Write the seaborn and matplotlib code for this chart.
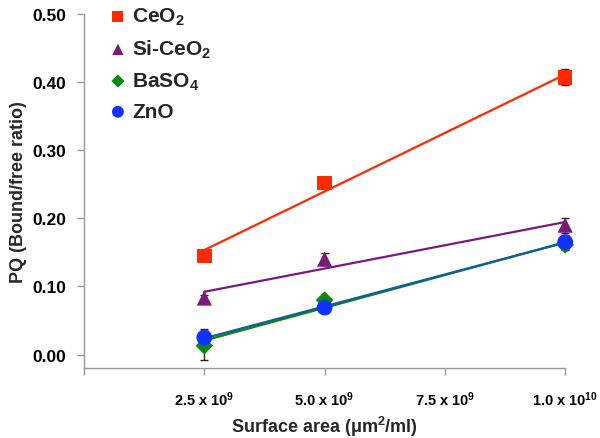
import matplotlib
matplotlib.use("Agg")
import matplotlib.pyplot as plt
import numpy as np
import pandas as pd
import seaborn as sns

# surface area of particles per ml (x values shared by every series)
surface_area = [2.5e9, 5.0e9, 1.0e10]

ceo2_pq = [0.145, 0.252, 0.407]
ceo2_err = [0.004, 0.007, 0.012]

si_ceo2_pq = [0.083, 0.140, 0.190]
si_ceo2_err = [0.004, 0.009, 0.011]

baso4_pq = [0.013, 0.080, 0.161]
baso4_err = [0.021, 0.004, 0.008]

zno_pq = [0.025, 0.069, 0.165]
zno_err = [0.012, 0.008, 0.010]

series_names = ["CeO$_2$", "Si-CeO$_2$", "BaSO$_4$", "ZnO"]
x_tick_values = [2.5e9, 5.0e9, 7.5e9, 1.0e10]
x_tick_labels = ["2.5 x 10$^9$", "5.0 x 10$^9$", "7.5 x 10$^9$", "1.0 x 10$^{10}$"]
y_tick_values = [0.0, 0.1, 0.2, 0.3, 0.4, 0.5]

sns.set_theme(style="ticks")
plt.rcParams["font.family"] = ["Liberation Sans", "DejaVu Sans"]
plt.rcParams["font.weight"] = "bold"
plt.rcParams["mathtext.fontset"] = "custom"
plt.rcParams["mathtext.rm"] = "Liberation Sans:bold"
plt.rcParams["mathtext.it"] = "Liberation Sans:bold"
plt.rcParams["mathtext.default"] = "rm"

styles = [
    # marker, marker colour, line colour, marker size
    ("s", "#ff2a00", "#ff2a00", 110),
    ("^", "#7a1a7a", "#7a1a7a", 120),
    ("D", "#0a8a0a", "#0a8a0a", 80),
    ("o", "#1133ff", "#125c9c", 130),
]
values = [ceo2_pq, si_ceo2_pq, baso4_pq, zno_pq]
errors = [ceo2_err, si_ceo2_err, baso4_err, zno_err]

fig = plt.figure(figsize=(6.0, 4.39), dpi=100)
ax = fig.add_axes([0.14, 0.159, 0.802, 0.807])

for name, pq, err, (marker, mcolor, lcolor, msize) in zip(series_names, values, errors, styles):
    df = pd.DataFrame({"area": surface_area, "pq": pq})
    ax.errorbar(surface_area, pq, yerr=err, fmt="none", ecolor="#222222",
                elinewidth=1.0, capsize=3, capthick=1.0, zorder=2, clip_on=False)
    sns.regplot(data=df, x="area", y="pq", scatter=False, ci=None, ax=ax,
                color=lcolor, line_kws={"linewidth": 1.6, "zorder": 3})
    sns.scatterplot(data=df, x="area", y="pq", marker=marker, color=mcolor,
                    s=msize, edgecolor="none", ax=ax, label=name, zorder=4,
                    clip_on=False)

ax.set_xlim(0, 1.0e10)
ax.set_ylim(-0.02, 0.5)
ax.set_xticks([0] + x_tick_values)
ax.set_xticklabels([""] + x_tick_labels, fontsize=10.5, fontweight="bold")
ax.set_yticks(y_tick_values)
ax.set_yticklabels([f"{v:.2f}" for v in y_tick_values], fontsize=12.5, fontweight="bold")
ax.tick_params(axis="both", colors="#999999", labelcolor="black", length=5, width=1)
ax.tick_params(axis="x", pad=10)
ax.tick_params(axis="y", pad=8)
for side in ["top", "right"]:
    ax.spines[side].set_visible(False)
for side in ["left", "bottom"]:
    ax.spines[side].set_color("#999999")
    ax.spines[side].set_linewidth(1)

ax.set_xlabel("Surface area ($\\mu$m$^2$/ml)", fontsize=13, fontweight="bold")
ax.xaxis.set_label_coords(0.5, -0.128)
ax.set_ylabel("PQ (Bound/free ratio)", fontsize=13, fontweight="bold")
ax.yaxis.set_label_coords(-0.118, 0.5)

leg = ax.legend(loc="upper left", bbox_to_anchor=(0.012, 1.075), frameon=False,
                fontsize=15, handletextpad=0.25, labelspacing=0.5,
                handlelength=0.9, markerscale=0.75)
for text in leg.get_texts():
    text.set_fontweight("bold")

fig.savefig("out.png", dpi=100)
